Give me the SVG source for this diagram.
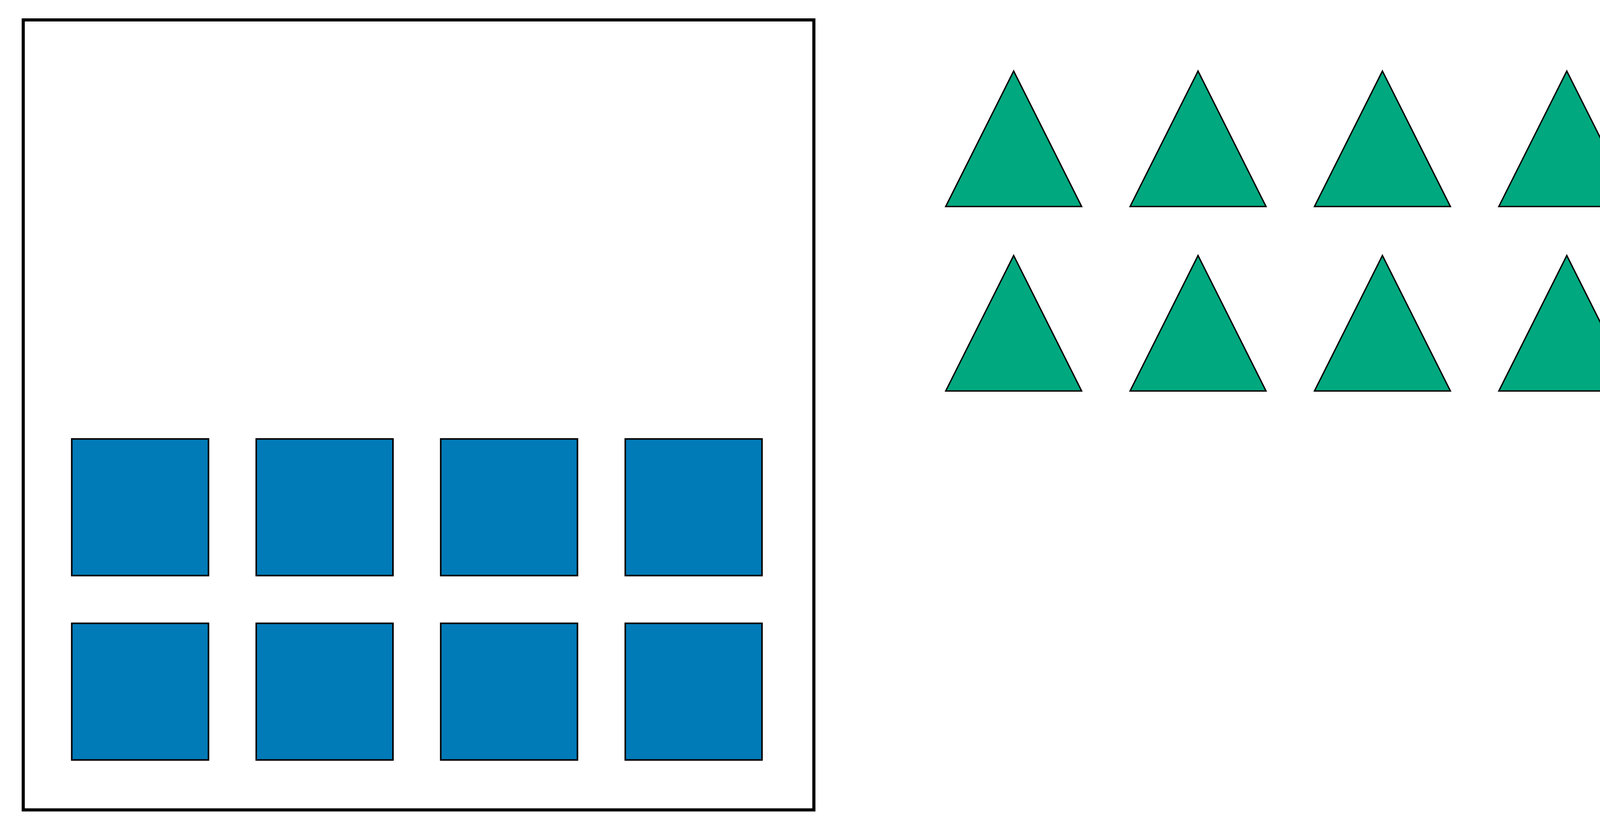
<svg xmlns="http://www.w3.org/2000/svg" width="4371" height="2126" viewBox="0 0 4371 2126">
<style>
.frame{fill:none;stroke:#000;stroke-width:8}
.sq{fill:#007bb8;stroke:#000;stroke-width:4}
.tri{fill:#00a87f;stroke:#000;stroke-width:3.5;stroke-linejoin:miter}
</style>
<defs>
<rect id="sqShape" class="sq" x="0" y="0" width="350" height="350"/>
<polygon id="triShape" class="tri" points="0,0 174,347 -174,347"/>
</defs>
<rect width="4371" height="2126" fill="#fff"/>
<g id="frame"><rect class="frame" x="59.5" y="51" width="2024" height="2023.5"/></g>
<g id="squares">
<g id="sq1"><use href="#sqShape" x="183.7" y="1124.3"/></g>
<g id="sq2"><use href="#sqShape" x="656" y="1124.3"/></g>
<g id="sq3"><use href="#sqShape" x="1128.3" y="1124.3"/></g>
<g id="sq4"><use href="#sqShape" x="1600.7" y="1124.3"/></g>
<g id="sq5"><use href="#sqShape" x="183.7" y="1596.6"/></g>
<g id="sq6"><use href="#sqShape" x="656" y="1596.6"/></g>
<g id="sq7"><use href="#sqShape" x="1128.3" y="1596.6"/></g>
<g id="sq8"><use href="#sqShape" x="1600.7" y="1596.6"/></g>
</g>
<g id="triangles">
<g id="tri1"><use href="#triShape" x="2595" y="182"/></g>
<g id="tri2"><use href="#triShape" x="3067" y="182"/></g>
<g id="tri3"><use href="#triShape" x="3539" y="182"/></g>
<g id="tri4"><use href="#triShape" x="4011" y="182"/></g>
<g id="tri5"><use href="#triShape" x="2595" y="654.5"/></g>
<g id="tri6"><use href="#triShape" x="3067" y="654.5"/></g>
<g id="tri7"><use href="#triShape" x="3539" y="654.5"/></g>
<g id="tri8"><use href="#triShape" x="4011" y="654.5"/></g>
</g>
<g id="connectors"/>
</svg>
